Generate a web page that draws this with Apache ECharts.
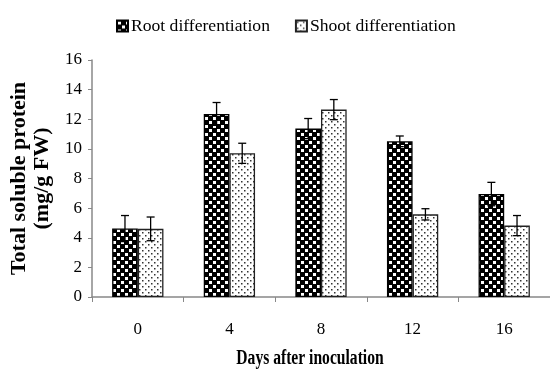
<!DOCTYPE html>
<html><head><meta charset="utf-8">
<script src="https://cdn.jsdelivr.net/npm/echarts@6/dist/echarts.min.js"></script>
<style>html,body{margin:0;padding:0;background:#fff}#c{width:550px;height:370px}</style>
</head><body><div id="c"></div>
<script>
var categories = ['0','4','8','12','16'];
var rootValues = [4.62, 12.36, 11.37, 10.51, 6.95];
var rootErrors = [0.88, 0.77, 0.68, 0.36, 0.79];
var shootValues = [4.6, 9.70, 12.65, 5.58, 4.82];
var shootErrors = [0.8, 0.68, 0.68, 0.38, 0.68];
var yTicks = [0,2,4,6,8,10,12,14,16];
var xTitle = 'Days after inoculation';
var yTitle = 'Total soluble protein\n(mg/g FW)';

function makeRootPattern(){
  var c = document.createElement('canvas'); c.width = 8; c.height = 8;
  var g = c.getContext('2d');
  g.fillStyle = '#000'; g.fillRect(0,0,8,8);
  g.fillStyle = '#fff';
  g.fillRect(1,1,3,3); g.fillRect(5,5,3,3);
  return c;
}
function makeShootPattern(){
  var c = document.createElement('canvas'); c.width = 6; c.height = 6;
  var g = c.getContext('2d');
  g.fillStyle = '#fff'; g.fillRect(0,0,6,6);
  g.fillStyle = '#333';
  g.fillRect(1,1,1.5,1.5); g.fillRect(4,4,1.5,1.5);
  return c;
}
var rootFill = {image: makeRootPattern(), repeat: 'repeat'};
var shootFill = {image: makeShootPattern(), repeat: 'repeat'};
var FONT = "'Liberation Serif', 'Times New Roman', serif";
var BW = 0.28;

function errSeries(vals, errs, side){
  return {
    type: 'custom',
    data: vals.map(function(v,i){return [i, v, errs[i]];}),
    z: 10,
    renderItem: function(params, api){
      var i = api.value(0), v = api.value(1), e = api.value(2);
      var band = api.size([1,0])[0];
      var x = api.coord([i, v])[0] + side * band * BW / 2;
      var yTop = api.coord([i, v + e])[1];
      var yBot = api.coord([i, v - e])[1];
      var hw = 4;
      var st = {stroke: '#000', lineWidth: 1.3};
      return {type: 'group', children: [
        {type: 'line', shape: {x1: x, y1: yTop, x2: x, y2: yBot}, style: st},
        {type: 'line', shape: {x1: x-hw, y1: yTop, x2: x+hw, y2: yTop}, style: st},
        {type: 'line', shape: {x1: x-hw, y1: yBot, x2: x+hw, y2: yBot}, style: st}
      ]};
    }
  };
}

var chart = echarts.init(document.getElementById('c'));
chart.setOption({
  animation: false,
  textStyle: {fontFamily: FONT},
  legend: {
    data: ['Root differentiation','Shoot differentiation'],
    top: 12, left: 111,
    itemWidth: 11, itemHeight: 11, itemGap: 25,
    textStyle: {fontFamily: FONT, fontSize: 17.6, color: '#000', padding: [0,0,0,-2]},
    icon: 'rect'
  },
  grid: {left: 92, top: 60, width: 460, height: 237, containLabel: false},
  graphic: [{
    type: 'text', x: 310, y: 359, scaleX: 0.78,
    style: {text: xTitle, font: "bold 20px 'Liberation Serif', 'Times New Roman', serif",
            fill: '#000', textAlign: 'center', textVerticalAlign: 'middle'}
  }],
  xAxis: {
    type: 'category', data: categories,
    axisLine: {lineStyle: {color: '#888', width: 1.5}},
    axisTick: {show: true, alignWithLabel: false, length: 5, lineStyle: {color: '#888'}},
    axisLabel: {fontFamily: FONT, fontSize: 17, color: '#000', margin: 24}
  },
  yAxis: {
    type: 'value', min: 0, max: 16, interval: 2,
    name: yTitle, nameLocation: 'middle', nameGap: 33,
    nameTextStyle: {fontFamily: FONT, fontSize: 22, fontWeight: 'bold', color: '#000', lineHeight: 23},
    axisLine: {show: true, lineStyle: {color: '#888', width: 1.5}},
    axisTick: {show: true, length: 4, lineStyle: {color: '#888'}},
    splitLine: {show: false},
    axisLabel: {fontFamily: FONT, fontSize: 17, color: '#000', margin: 10,
      formatter: function(v){ return yTicks.indexOf(v) >= 0 ? String(v) : ''; }}
  },
  series: [
    {name: 'Root differentiation', type: 'bar', data: rootValues, barWidth: '28%', barGap: '0%',
     itemStyle: {color: rootFill, borderColor: '#000', borderWidth: 1.3}},
    {name: 'Shoot differentiation', type: 'bar', data: shootValues, barWidth: '28%', barGap: '0%',
     itemStyle: {color: shootFill, borderColor: '#222', borderWidth: 1.3}},
    errSeries(rootValues, rootErrors, -1),
    errSeries(shootValues, shootErrors, 1)
  ]
});
</script></body></html>
